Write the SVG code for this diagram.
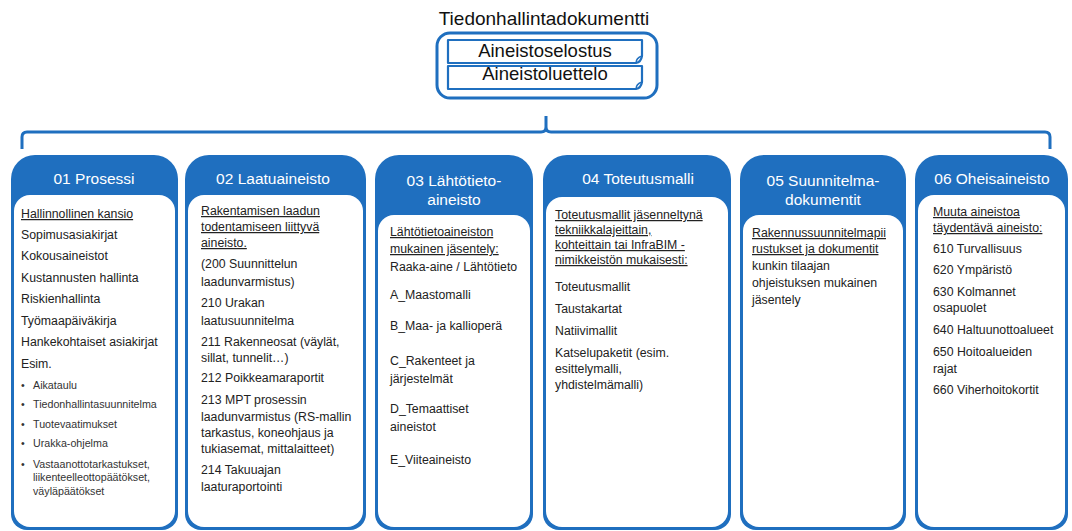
<svg xmlns="http://www.w3.org/2000/svg" width="1072" height="531" viewBox="0 0 1072 531">
<style>
  text { font-family: "Liberation Sans", Arial, sans-serif; }
  .title { font-size: 19px; fill: #111; }
  .boxt { font-size: 18.5px; fill: #111; text-anchor: middle; }
  .frame { fill: #fff; stroke: #1f6fbf; stroke-width: 3; }
  .doc { fill: #fff; stroke: #1f6fbf; stroke-width: 2.2; stroke-linejoin: round; }
  .fold { fill: none; stroke: #1f6fbf; stroke-width: 1.5; }
  .brace { fill: none; stroke: #1f6fbf; stroke-width: 3; stroke-linejoin: round; }
  .col { fill: #1f6fbf; }
  .panel { fill: #fff; }
  .hd { font-size: 15.5px; fill: #fff; text-anchor: middle; }
  .b { font-size: 12.3px; fill: #222; }
  .u { text-decoration: underline; }
  .s { font-size: 10.7px; fill: #333; }
</style>

<g id="tiedonhallintadokumentti">
  <text class="title" x="544" y="25" text-anchor="middle">Tiedonhallintadokumentti</text>
  <rect class="frame" x="437" y="33" width="220" height="65" rx="13"/>
  <path class="doc" d="M448,40 H642 V56 Q641,62 636,63 H448 Z"/>
  <path class="fold" d="M636,63 Q636,58 642,56"/>
  <text class="boxt" x="545" y="57">Aineistoselostus</text>
  <path class="doc" d="M448,66 H642 V82 Q641,88 636,89 H448 Z"/>
  <path class="fold" d="M636,89 Q636,84 642,82"/>
  <text class="boxt" x="545" y="80">Aineistoluettelo</text>
</g>

<g id="connectors">
  <path class="brace" d="M22,149 V137 Q22,132 27,132 H541 Q546,132 546,127 V116 M546,127 Q546,132 551,132 H1045 Q1050,132 1050,137 V149"/>
</g>

<g id="col01">
  <path class="col" d="M11,179 A24,24 0 0 1 35,155 H154 A24,24 0 0 1 178,179 V514 A16,16 0 0 1 162,530 H27 A16,16 0 0 1 11,514 Z"/>
  <rect class="panel" x="14" y="195" width="161" height="332" rx="16"/>
  <text class="hd" x="94" y="184">01 Prosessi</text>
  <text class="b u" x="21" y="218">Hallinnollinen kansio</text>
  <text class="b" x="21" y="239">Sopimusasiakirjat</text>
  <text class="b" x="21" y="260">Kokousaineistot</text>
  <text class="b" x="21" y="282">Kustannusten hallinta</text>
  <text class="b" x="21" y="303">Riskienhallinta</text>
  <text class="b" x="21" y="325">Työmaapäiväkirja</text>
  <text class="b" x="21" y="346">Hankekohtaiset asiakirjat</text>
  <text class="b" x="21" y="368">Esim.</text>
  <text class="s" x="21" y="389">•</text><text class="s" x="33" y="389">Aikataulu</text>
  <text class="s" x="21" y="408">•</text><text class="s" x="33" y="408">Tiedonhallintasuunnitelma</text>
  <text class="s" x="21" y="428">•</text><text class="s" x="33" y="428">Tuotevaatimukset</text>
  <text class="s" x="21" y="447">•</text><text class="s" x="33" y="447">Urakka-ohjelma</text>
  <text class="s" x="21" y="468">•</text><text class="s" x="33" y="468">Vastaanottotarkastukset,</text>
  <text class="s" x="33" y="481">liikenteelleottopäätökset,</text>
  <text class="s" x="33" y="495">väyläpäätökset</text>
</g>

<g id="col02">
  <path class="col" d="M185,179 A24,24 0 0 1 209,155 H342 A24,24 0 0 1 366,179 V514 A16,16 0 0 1 350,530 H201 A16,16 0 0 1 185,514 Z"/>
  <rect class="panel" x="188" y="195" width="175" height="332" rx="16"/>
  <text class="hd" x="273" y="184">02 Laatuaineisto</text>
  <text class="b u" x="201" y="215">Rakentamisen laadun</text>
  <text class="b u" x="201" y="231">todentamiseen liittyvä</text>
  <text class="b u" x="201" y="247">aineisto.</text>
  <text class="b" x="201" y="268">(200 Suunnittelun</text>
  <text class="b" x="201" y="286">laadunvarmistus)</text>
  <text class="b" x="201" y="307">210 Urakan</text>
  <text class="b" x="201" y="325">laatusuunnitelma</text>
  <text class="b" x="201" y="346">211 Rakenneosat (väylät,</text>
  <text class="b" x="201" y="362">sillat, tunnelit…)</text>
  <text class="b" x="201" y="382">212 Poikkeamaraportit</text>
  <text class="b" x="201" y="404">213 MPT prosessin</text>
  <text class="b" x="201" y="421">laadunvarmistus (RS-mallin</text>
  <text class="b" x="201" y="437">tarkastus, koneohjaus ja</text>
  <text class="b" x="201" y="453">tukiasemat, mittalaitteet)</text>
  <text class="b" x="201" y="474">214 Takuuajan</text>
  <text class="b" x="201" y="491">laaturaportointi</text>
</g>

<g id="col03">
  <path class="col" d="M375,179 A24,24 0 0 1 399,155 H509 A24,24 0 0 1 533,179 V514 A16,16 0 0 1 517,530 H391 A16,16 0 0 1 375,514 Z"/>
  <rect class="panel" x="378" y="215" width="152" height="312" rx="16"/>
  <text class="hd" x="454" y="186">03 Lähtötieto-</text>
  <text class="hd" x="454" y="205">aineisto</text>
  <text class="b u" x="390" y="236">Lähtötietoaineiston</text>
  <text class="b u" x="390" y="253">mukainen jäsentely:</text>
  <text class="b" x="390" y="271">Raaka-aine / Lähtötieto</text>
  <text class="b" x="390" y="299">A_Maastomalli</text>
  <text class="b" x="390" y="330">B_Maa- ja kallioperä</text>
  <text class="b" x="390" y="365">C_Rakenteet ja</text>
  <text class="b" x="390" y="383">järjestelmät</text>
  <text class="b" x="390" y="413">D_Temaattiset</text>
  <text class="b" x="390" y="431">aineistot</text>
  <text class="b" x="390" y="464">E_Viiteaineisto</text>
</g>

<g id="col04">
  <path class="col" d="M543,179 A24,24 0 0 1 567,155 H707 A24,24 0 0 1 731,179 V514 A16,16 0 0 1 715,530 H559 A16,16 0 0 1 543,514 Z"/>
  <rect class="panel" x="546" y="197" width="182" height="330" rx="16"/>
  <text class="hd" x="638" y="184">04 Toteutusmalli</text>
  <text class="b u" x="555" y="219">Toteutusmallit jäsenneltynä</text>
  <text class="b u" x="555" y="234">tekniikkalajeittain,</text>
  <text class="b u" x="555" y="249">kohteittain tai InfraBIM -</text>
  <text class="b u" x="555" y="264">nimikkeistön mukaisesti:</text>
  <text class="b" x="555" y="291">Toteutusmallit</text>
  <text class="b" x="555" y="313">Taustakartat</text>
  <text class="b" x="555" y="335">Natiivimallit</text>
  <text class="b" x="555" y="357">Katselupaketit (esim.</text>
  <text class="b" x="555" y="373">esittelymalli,</text>
  <text class="b" x="555" y="389">yhdistelmämalli)</text>
</g>

<g id="col05">
  <path class="col" d="M740,179 A24,24 0 0 1 764,155 H882 A24,24 0 0 1 906,179 V514 A16,16 0 0 1 890,530 H756 A16,16 0 0 1 740,514 Z"/>
  <rect class="panel" x="743" y="215" width="160" height="312" rx="16"/>
  <text class="hd" x="823" y="186">05 Suunnitelma-</text>
  <text class="hd" x="823" y="205">dokumentit</text>
  <text class="b u" x="752" y="237">Rakennussuunnitelmapii</text>
  <text class="b u" x="752" y="253">rustukset ja dokumentit</text>
  <text class="b" x="752" y="270">kunkin tilaajan</text>
  <text class="b" x="752" y="287">ohjeistuksen mukainen</text>
  <text class="b" x="752" y="304">jäsentely</text>
</g>

<g id="col06">
  <path class="col" d="M915,179 A24,24 0 0 1 939,155 H1044 A24,24 0 0 1 1068,179 V514 A16,16 0 0 1 1052,530 H931 A16,16 0 0 1 915,514 Z"/>
  <rect class="panel" x="918" y="195" width="147" height="332" rx="16"/>
  <text class="hd" x="992" y="184">06 Oheisaineisto</text>
  <text class="b u" x="933" y="216">Muuta aineistoa</text>
  <text class="b u" x="933" y="232">täydentävä aineisto:</text>
  <text class="b" x="933" y="253">610 Turvallisuus</text>
  <text class="b" x="933" y="274">620 Ympäristö</text>
  <text class="b" x="933" y="296">630 Kolmannet</text>
  <text class="b" x="933" y="312">osapuolet</text>
  <text class="b" x="933" y="334">640 Haltuunottoalueet</text>
  <text class="b" x="933" y="356">650 Hoitoalueiden</text>
  <text class="b" x="933" y="373">rajat</text>
  <text class="b" x="933" y="394">660 Viherhoitokortit</text>
</g>
</svg>
